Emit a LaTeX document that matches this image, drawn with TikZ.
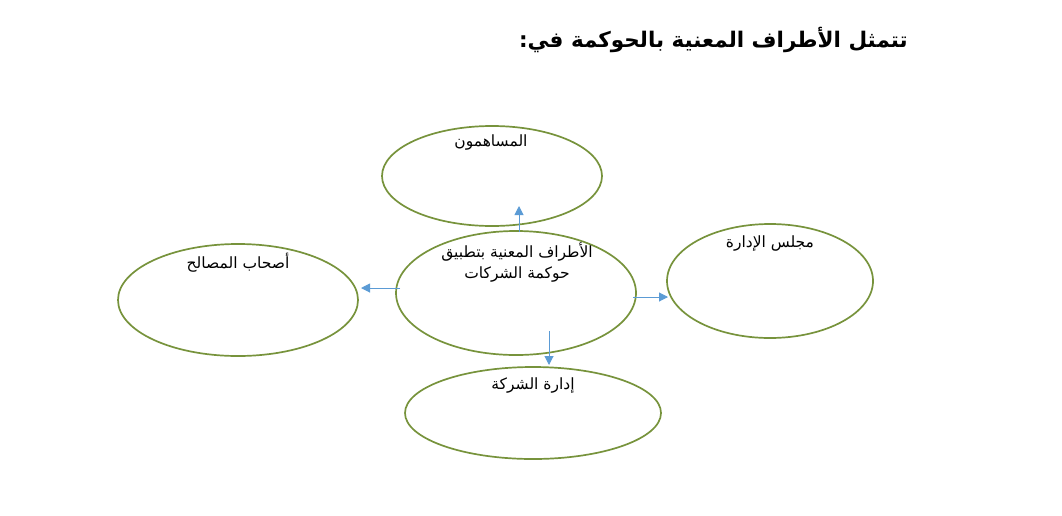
\documentclass[tikz,border=0pt]{standalone}
\usepackage{fontspec}
\newfontfamily\arabicfont[Script=Arabic]{DejaVu Sans}
\TeXXeTstate=1
\usetikzlibrary{arrows.meta}
\definecolor{ellgreen}{HTML}{77933C}
\definecolor{arrblue}{HTML}{5B9BD5}
\tikzset{
  ell/.style={draw=ellgreen, line width=1.7pt},
  lbl/.style={font=\arabicfont\fontsize{15.5}{21}\selectfont, inner sep=0pt, align=center},
  conn/.style={draw=arrblue, line width=1pt, -{Triangle[length=9pt,width=9pt]}}
}
\begin{document}
\begin{tikzpicture}[x=1pt,y=-1pt]
\useasboundingbox (0,0) rectangle (1062,515);
\node[font=\arabicfont\bfseries\fontsize{21.5}{26}\selectfont, anchor=east, inner sep=0pt] (title) at (908,40) {\beginR تتمثل الأطراف المعنية بالحوكمة في:\endR};
% ellipses
\draw[ell] (492,176) ellipse [x radius=110, y radius=50];
\draw[ell] (516,293) ellipse [x radius=120, y radius=62];
\draw[ell] (238,300) ellipse [x radius=120, y radius=56];
\draw[ell] (770,281) ellipse [x radius=103, y radius=57];
\draw[ell] (533,413) ellipse [x radius=128, y radius=46];
% labels
\node[lbl] (top) at (491,142) {\beginR المساهمون\endR};
\node[lbl] (center) at (517,262) {\beginR الأطراف المعنية بتطبيق\endR\\\beginR حوكمة الشركات\endR};
\node[lbl] (left) at (238,263) {\beginR أصحاب المصالح\endR};
\node[lbl] (right) at (770,243) {\beginR مجلس الإدارة\endR};
\node[lbl] (bottom) at (533,385) {\beginR إدارة الشركة\endR};
% connector coordinates
\coordinate (upS) at (519,232);
\coordinate (upE) at (519,206);
\coordinate (lfS) at (400,288);
\coordinate (lfE) at (361,288);
\coordinate (rtS) at (633,297);
\coordinate (rtE) at (668,297);
\coordinate (dnS) at (549,331);
\coordinate (dnE) at (549,365);
\draw[conn] (upS) -- (upE);
\draw[conn] (lfS) -- (lfE);
\draw[conn] (rtS) -- (rtE);
\draw[conn] (dnS) -- (dnE);
\end{tikzpicture}
\end{document}
